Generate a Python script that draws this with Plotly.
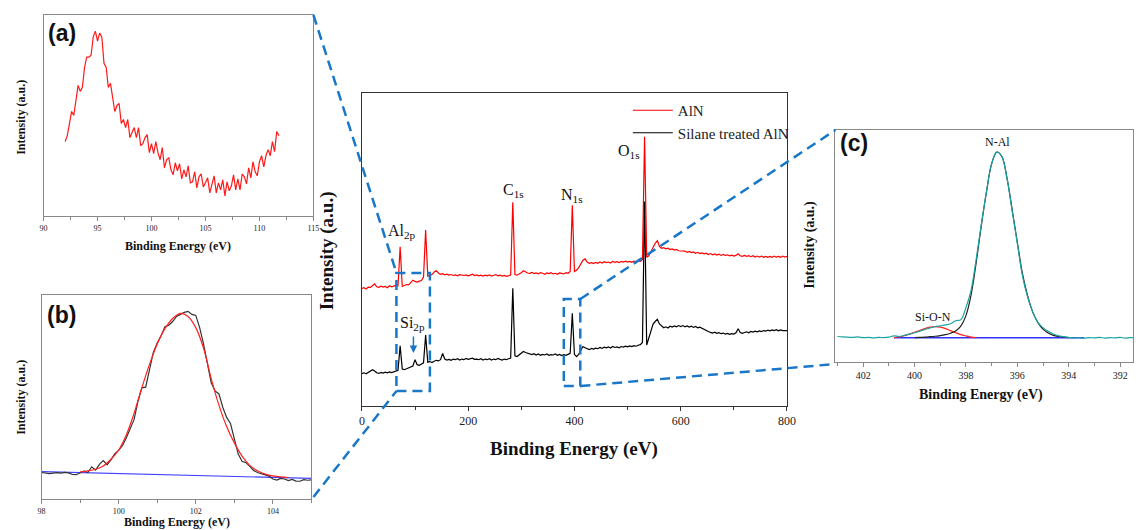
import plotly.graph_objects as go

W, H = 1142, 530

# ---------------- panel (a): Al2p region of AlN ----------------
a_energy = [round(92.0 + 0.2 * i, 1) for i in range(100)]
a_intensity = [
    0.37, 0.40, 0.46, 0.52, 0.50, 0.57, 0.65, 0.62, 0.64, 0.74,
    0.79, 0.79, 0.80, 0.89, 0.92, 0.87, 0.91, 0.89, 0.76, 0.74,
    0.64, 0.66, 0.58, 0.52, 0.55, 0.56, 0.46, 0.48, 0.44, 0.48,
    0.39, 0.42, 0.44, 0.39, 0.44, 0.35, 0.36, 0.39, 0.405, 0.315,
    0.36, 0.31, 0.37, 0.315, 0.28, 0.34, 0.24, 0.28, 0.29, 0.23,
    0.205, 0.265, 0.225, 0.26, 0.185, 0.23, 0.195, 0.25, 0.165, 0.17,
    0.22, 0.14, 0.195, 0.21, 0.145, 0.165, 0.19, 0.115, 0.16, 0.20,
    0.115, 0.165, 0.13, 0.18, 0.10, 0.17, 0.125, 0.15, 0.205, 0.13,
    0.185, 0.13, 0.208, 0.195, 0.16, 0.24, 0.19, 0.27, 0.22, 0.20,
    0.27, 0.30, 0.245, 0.30, 0.33, 0.30, 0.37, 0.32, 0.42, 0.40,
]

# ---------------- panel (b): Si2p of silane treated AlN ----------------
b_energy = [round(98.0 + 0.1 * i, 1) for i in range(71)]
b_intensity = [
    0.130, 0.128, 0.124, 0.127, 0.129, 0.127, 0.130, 0.128, 0.120, 0.119,
    0.130, 0.137, 0.130, 0.158, 0.142, 0.170, 0.188, 0.168, 0.192, 0.222,
    0.238, 0.262, 0.300, 0.345, 0.390, 0.478, 0.545, 0.548, 0.640, 0.720,
    0.765, 0.800, 0.845, 0.852, 0.870, 0.895, 0.905, 0.915, 0.920, 0.905,
    0.900, 0.840, 0.760, 0.670, 0.570, 0.530, 0.515, 0.450, 0.400, 0.370,
    0.295, 0.220, 0.185, 0.178, 0.160, 0.140, 0.130, 0.122, 0.118, 0.112,
    0.098, 0.093, 0.101, 0.098, 0.090, 0.096, 0.088, 0.087, 0.095, 0.092,
    0.094,
]
b_fit_energy = [round(99.0 + 0.2 * i, 1) for i in range(28)]
b_fit = [
    0.133, 0.138, 0.146, 0.162, 0.195, 0.240, 0.315, 0.420, 0.545, 0.660,
    0.760, 0.835, 0.885, 0.910, 0.895, 0.840, 0.740, 0.590, 0.460, 0.355,
    0.275, 0.210, 0.165, 0.138, 0.122, 0.113, 0.108, 0.105,
]
b_base_energy = [98.0, 105.0]
b_base = [0.134, 0.101]

# ---------------- main survey spectra ----------------
survey_energy = list(range(0, 801, 4))
aln = [
    0.376, 0.378, 0.374, 0.380, 0.379, 0.386, 0.390, 0.381, 0.379, 0.383,
    0.380, 0.382, 0.378, 0.384, 0.381, 0.383, 0.386, 0.384, 0.509, 0.382,
    0.386, 0.388, 0.387, 0.395, 0.402, 0.398, 0.396, 0.399, 0.401, 0.412,
    0.562, 0.415, 0.418, 0.420, 0.428, 0.432, 0.425, 0.421, 0.423, 0.419,
    0.421, 0.418, 0.420, 0.417, 0.419, 0.416, 0.420, 0.418, 0.417, 0.419,
    0.416, 0.418, 0.421, 0.417, 0.419, 0.416, 0.418, 0.415, 0.418, 0.416,
    0.419, 0.415, 0.417, 0.420, 0.416, 0.418, 0.415, 0.417, 0.414, 0.416,
    0.418, 0.651, 0.420, 0.418, 0.421, 0.426, 0.432, 0.428, 0.425, 0.424,
    0.427, 0.423, 0.425, 0.422, 0.426, 0.424, 0.421, 0.425, 0.423, 0.426,
    0.422, 0.424, 0.421, 0.425, 0.423, 0.422, 0.426, 0.424, 0.430, 0.641,
    0.430, 0.434, 0.442, 0.452, 0.466, 0.470, 0.460, 0.456, 0.458, 0.455,
    0.459, 0.456, 0.460, 0.457, 0.461, 0.458, 0.460, 0.457, 0.462, 0.459,
    0.461, 0.458, 0.462, 0.460, 0.463, 0.460, 0.462, 0.459, 0.463, 0.461,
    0.464, 0.462, 0.468, 0.860, 0.475, 0.480, 0.494, 0.508, 0.520, 0.528,
    0.510, 0.504, 0.506, 0.502, 0.504, 0.500, 0.502, 0.498, 0.500, 0.496,
    0.496, 0.494, 0.495, 0.491, 0.494, 0.490, 0.492, 0.488, 0.491, 0.487,
    0.489, 0.486, 0.488, 0.484, 0.487, 0.483, 0.486, 0.482, 0.485, 0.481,
    0.484, 0.481, 0.483, 0.480, 0.482, 0.479, 0.481, 0.486, 0.480, 0.478,
    0.481, 0.478, 0.480, 0.477, 0.480, 0.476, 0.479, 0.476, 0.479, 0.475,
    0.478, 0.475, 0.478, 0.475, 0.479, 0.476, 0.478, 0.475, 0.479, 0.476,
    0.478,
]
silane_aln = [
    0.104, 0.106, 0.103, 0.108, 0.110, 0.116, 0.112, 0.106, 0.104, 0.107,
    0.105, 0.108, 0.106, 0.109, 0.107, 0.110, 0.112, 0.114, 0.192, 0.118,
    0.116, 0.119, 0.121, 0.124, 0.128, 0.148, 0.132, 0.130, 0.134, 0.138,
    0.227, 0.140, 0.142, 0.139, 0.143, 0.146, 0.144, 0.148, 0.168, 0.150,
    0.147, 0.149, 0.146, 0.150, 0.148, 0.151, 0.147, 0.150, 0.148, 0.152,
    0.149, 0.151, 0.153, 0.149, 0.150, 0.148, 0.151, 0.147, 0.150, 0.148,
    0.151, 0.147, 0.150, 0.148, 0.152, 0.149, 0.147, 0.150, 0.148, 0.151,
    0.153, 0.376, 0.160, 0.158, 0.163, 0.170, 0.174, 0.171, 0.168, 0.166,
    0.164, 0.167, 0.163, 0.166, 0.162, 0.165, 0.163, 0.166, 0.162, 0.164,
    0.163, 0.166, 0.162, 0.165, 0.161, 0.164, 0.162, 0.165, 0.168, 0.296,
    0.165, 0.158, 0.165, 0.178, 0.190, 0.186, 0.183, 0.180, 0.184, 0.182,
    0.185, 0.183, 0.187, 0.184, 0.188, 0.186, 0.189, 0.185, 0.190, 0.187,
    0.189, 0.186, 0.190, 0.188, 0.191, 0.189, 0.192, 0.190, 0.193, 0.191,
    0.194, 0.196, 0.203, 0.653, 0.195, 0.215, 0.240, 0.262, 0.270, 0.277,
    0.262, 0.256, 0.250, 0.253, 0.249, 0.255, 0.252, 0.256, 0.253, 0.257,
    0.254, 0.257, 0.253, 0.256, 0.252, 0.255, 0.251, 0.254, 0.250, 0.252,
    0.248, 0.245, 0.242, 0.238, 0.235, 0.233, 0.236, 0.232, 0.234, 0.231,
    0.233, 0.230, 0.232, 0.229, 0.231, 0.230, 0.234, 0.247, 0.235, 0.232,
    0.235, 0.237, 0.234, 0.238, 0.236, 0.239, 0.237, 0.240, 0.238, 0.241,
    0.239, 0.242, 0.240, 0.243, 0.241, 0.244, 0.240, 0.243, 0.241, 0.242,
    0.241,
]
peak_labels = ["Al<sub>2p</sub>", "C<sub>1s</sub>", "N<sub>1s</sub>", "O<sub>1s</sub>", "Si<sub>2p</sub>"]
peak_label_x = [76, 285, 396, 502, 95]
peak_label_y = [0.556, 0.690, 0.674, 0.812, 0.262]
zoom_box1 = [65, 128, 0.048, 0.425]
zoom_box2 = [380, 411, 0.064, 0.342]

# ---------------- panel (c): N1s of silane treated AlN ----------------
c_energy = [round(403.0 - 0.2 * i, 1) for i in range(59)]
c_intensity = [
    0.110, 0.108, 0.107, 0.106, 0.108, 0.105, 0.106, 0.104, 0.106, 0.105,
    0.107, 0.113, 0.110, 0.115, 0.120, 0.126, 0.133, 0.140, 0.147, 0.152,
    0.156, 0.160, 0.165, 0.178, 0.182, 0.235, 0.310, 0.445, 0.595, 0.735,
    0.855, 0.905, 0.885, 0.790, 0.650, 0.510, 0.370, 0.280, 0.215, 0.170,
    0.148, 0.132, 0.121, 0.113, 0.109, 0.106, 0.104, 0.105, 0.103, 0.105,
    0.104, 0.106, 0.103, 0.105, 0.104, 0.106, 0.103, 0.105, 0.104,
]
c_nal_energy = [round(400.0 - 0.2 * i, 1) for i in range(31)]
c_nal = [
    0.105, 0.106, 0.107, 0.109, 0.111, 0.114, 0.118, 0.124, 0.134, 0.155,
    0.200, 0.290, 0.430, 0.590, 0.735, 0.855, 0.905, 0.885, 0.790, 0.655,
    0.515, 0.380, 0.285, 0.215, 0.170, 0.142, 0.125, 0.115, 0.110, 0.107,
    0.105,
]
c_sion_energy = [round(400.8 - 0.2 * i, 1) for i in range(17)]
c_sion = [
    0.105, 0.108, 0.113, 0.120, 0.128, 0.136, 0.144, 0.150, 0.152, 0.150,
    0.144, 0.135, 0.126, 0.118, 0.112, 0.107, 0.105,
]
c_base_energy = [400.8, 393.4]
c_base = [0.104, 0.104]

# ---------------- styling helpers ----------------
SERIF = "Liberation Serif"
SANS = "Liberation Sans"
DASH_BLUE = "#1877C9"


def px(x):
    return x / W


def py(y):
    return 1 - y / H


fig = go.Figure()

line_w = 1.2
fig.add_trace(go.Scatter(x=a_energy, y=a_intensity, mode="lines", line=dict(color="#ff1a1a", width=line_w),
                         xaxis="x", yaxis="y", showlegend=False))

fig.add_trace(go.Scatter(x=b_base_energy, y=b_base, mode="lines", line=dict(color="#4040ff", width=line_w),
                         xaxis="x2", yaxis="y2", showlegend=False))
fig.add_trace(go.Scatter(x=b_energy, y=b_intensity, mode="lines", line=dict(color="#333333", width=line_w),
                         xaxis="x2", yaxis="y2", showlegend=False))
fig.add_trace(go.Scatter(x=b_fit_energy, y=b_fit, mode="lines", line=dict(color="#ff2020", width=line_w, shape="spline"),
                         xaxis="x2", yaxis="y2", showlegend=False))

fig.add_trace(go.Scatter(x=survey_energy, y=aln, mode="lines", name="AlN",
                         line=dict(color="#ff0000", width=line_w), xaxis="x3", yaxis="y3"))
fig.add_trace(go.Scatter(x=survey_energy, y=silane_aln, mode="lines", name="Silane treated AlN",
                         line=dict(color="#000000", width=line_w), xaxis="x3", yaxis="y3"))

fig.add_trace(go.Scatter(x=c_base_energy, y=c_base, mode="lines", line=dict(color="#3030ff", width=1.5),
                         xaxis="x4", yaxis="y4", showlegend=False))
fig.add_trace(go.Scatter(x=c_sion_energy, y=c_sion, mode="lines", line=dict(color="#ff2020", width=line_w, shape="spline"),
                         xaxis="x4", yaxis="y4", showlegend=False))
fig.add_trace(go.Scatter(x=c_nal_energy, y=c_nal, mode="lines", line=dict(color="#222222", width=line_w, shape="spline"),
                         xaxis="x4", yaxis="y4", showlegend=False))
fig.add_trace(go.Scatter(x=c_energy, y=c_intensity, mode="lines", line=dict(color="#1aa3a3", width=line_w, shape="spline"),
                         xaxis="x4", yaxis="y4", showlegend=False))


def xax(domain, rng, dtick, minor_dtick, tick0, size, color, anchor):
    return dict(domain=domain, range=rng, anchor=anchor, showgrid=False, zeroline=False,
                showline=True, mirror=True, linecolor=color, linewidth=1,
                ticks="outside", ticklen=4, tickcolor=color, dtick=dtick, tick0=tick0,
                tickfont=dict(family=SERIF, size=size, color="#222"),
                minor=dict(ticks="outside", ticklen=2.5, dtick=minor_dtick, tick0=tick0, tickcolor=color))


def yax(domain, color, anchor):
    return dict(domain=domain, range=[0, 1], anchor=anchor, showgrid=False, zeroline=False,
                showline=True, mirror=True, linecolor=color, linewidth=1,
                showticklabels=False, ticks="")


fig.update_layout(
    width=W, height=H, margin=dict(l=0, r=0, t=0, b=0),
    paper_bgcolor="white", plot_bgcolor="white",
    xaxis=xax([px(40), px(313)], [90, 115], 5, 2.5, 90, 8, "#888888", "y"),
    yaxis=yax([py(216), py(15)], "#888888", "x"),
    xaxis2=xax([px(38), px(311)], [98, 105], 2, 1, 98, 8, "#888888", "y2"),
    yaxis2=yax([py(499), py(295)], "#888888", "x2"),
    xaxis3=xax([px(362), px(792)], [0, 800], 200, 100, 0, 12, "#333333", "y3"),
    yaxis3=yax([py(406), py(93)], "#333333", "x3"),
    xaxis4=xax([px(841), px(1142)], [403.08, 391.5], 2, 1, 392, 10, "#888888", "y4"),
    yaxis4=yax([py(362), py(130)], "#888888", "x4"),
    legend=dict(x=px(631), y=py(94), xanchor="left", yanchor="top", bgcolor="rgba(0,0,0,0)",
                font=dict(family=SERIF, size=15, color="#222"), tracegroupgap=0, itemwidth=40),
)

annotations = []


def text(t, x, y, size, family=SERIF, bold=True, angle=0, xref="paper", yref="paper"):
    if xref == "paper":
        x, y = px(x), py(y)
    annotations.append(dict(text=("<b>%s</b>" % t) if bold else t, x=x, y=y, xref=xref, yref=yref,
                            showarrow=False, textangle=angle, xanchor="center", yanchor="middle",
                            font=dict(family=family, size=size, color="#111")))


# panel letters
text("(a)", 58.5, 33, 23, family=SANS)
text("(b)", 58.5, 315, 23, family=SANS)
text("(c)", 860, 142.5, 23, family=SANS)
# axis titles
text("Binding Energy (eV)", 176, 246, 12)
text("Intensity (a.u.)", 17, 117, 12, angle=-90)
text("Binding Energy (eV)", 175, 522, 12)
text("Intensity (a.u.)", 17, 397, 12, angle=-90)
text("Binding Energy (eV)", 577, 449, 19)
text("Intensity (a.u.)", 327, 251, 19, angle=-90)
text("Binding Energy (eV)", 988, 395, 14)
text("Intensity (a.u.)", 815, 245, 14, angle=-90)
# peak labels
for lbl, lx, ly in zip(peak_labels, peak_label_x, peak_label_y):
    text(lbl, lx, ly, 16, bold=False, xref="x3", yref="y3")
text("N-Al", 1005, 142, 12, bold=False)
text("Si-O-N", 940, 317, 12, bold=False)
# Si2p arrow
annotations.append(dict(x=97, y=0.169, xref="x3", yref="y3", text="", showarrow=True, ax=0, ay=-18,
                        arrowcolor=DASH_BLUE, arrowwidth=1.5, arrowhead=2, arrowsize=1))
fig.update_layout(annotations=annotations)

shapes = []
dash = "10px,6px"
for bx in (zoom_box1, zoom_box2):
    shapes.append(dict(type="rect", xref="x3", yref="y3", x0=bx[0], x1=bx[1], y0=bx[2], y1=bx[3],
                       line=dict(color=DASH_BLUE, width=2.5, dash=dash)))
connectors = [((313, 15), (397, 273)), ((313, 497), (397, 391)),
              ((583, 299), (841, 130)), ((583, 386), (841, 364))]
for (x0, y0), (x1, y1) in connectors:
    shapes.append(dict(type="line", xref="paper", yref="paper", x0=px(x0), y0=py(y0), x1=px(x1), y1=py(y1),
                       line=dict(color=DASH_BLUE, width=2.5, dash=dash)))
fig.update_layout(shapes=shapes)

fig.write_html("out.html")
